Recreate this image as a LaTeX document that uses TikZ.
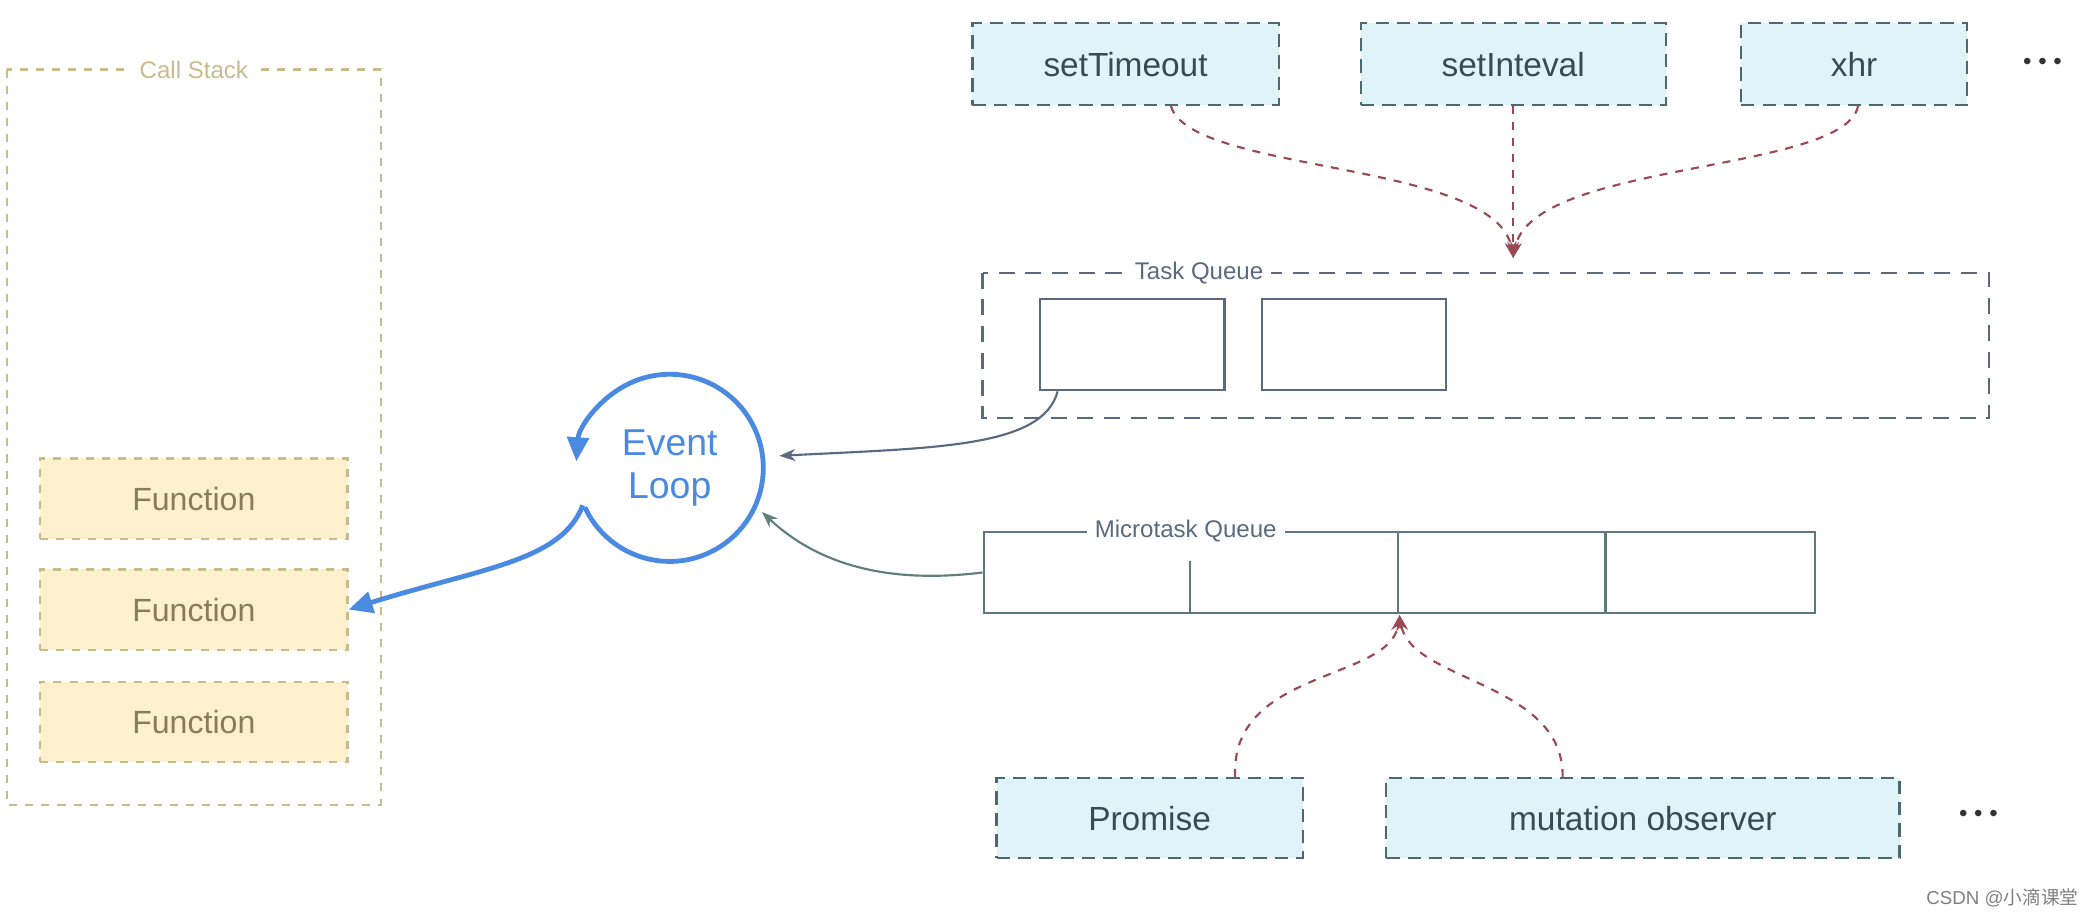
\documentclass[tikz,border=0pt]{standalone}
\usepackage{fontspec}
\setmainfont{Liberation Sans}
\newfontfamily\cjk{Noto Sans CJK SC}
\usetikzlibrary{arrows.meta}
\definecolor{tan}{HTML}{C9BB8C}
\definecolor{fnfill}{HTML}{FDF0CC}
\definecolor{fntext}{HTML}{8A7A5A}
\definecolor{evblue}{HTML}{4A8AE0}
\definecolor{slate}{HTML}{5A6A80}
\definecolor{mgreen}{HTML}{5F7F7A}
\definecolor{apifill}{HTML}{DFF3F8}
\definecolor{apiline}{HTML}{4A6A70}
\definecolor{apitext}{HTML}{3A4A55}
\definecolor{redd}{HTML}{9A4A55}
\tikzset{
 fn/.style={draw=tan,dashed,thick,fill=fnfill,text=fntext,font=\fontsize{12}{14}\selectfont},
 api/.style={draw=apiline,dashed,thick,fill=apifill,text=apitext,font=\fontsize{12.5}{14}\selectfont,dash pattern=on 5pt off 3pt},
 rarr/.style={draw=redd,dashed,thick,-{Stealth[length=6pt]}},
 lbl/.style={fill=white,inner sep=3pt,font=\fontsize{9}{10}\selectfont},
 dots/.style={text=black!80,font=\fontsize{9}{10}\selectfont},
}
\begin{document}
\begin{tikzpicture}[x=0.5pt,y=-0.5pt]
\useasboundingbox (0,0) rectangle (1568,688);
% call stack
\draw[tan,dashed,thick] (5,52) rectangle (285,602);
\node[lbl,text=tan] (cs) at (145,52) {Call Stack};
\node[fn,minimum width=115pt,minimum height=30pt] (f1) at (145,373) {Function};
\node[fn,minimum width=115pt,minimum height=30pt] (f2) at (145,456) {Function};
\node[fn,minimum width=115pt,minimum height=30pt] (f3) at (145,540) {Function};
% event loop
\coordinate (el) at (501,350);
\node[text=evblue,font=\fontsize{14}{16}\selectfont,align=center] (elt) at (el) {Event\\Loop};
\draw[evblue,line width=1.8pt,-{Triangle[length=9pt,width=8pt]}] (el) ++(155:70) arc[start angle=155,end angle=-176,radius=70];
\coordinate (es) at (436,378);
\draw[evblue,line width=1.8pt,-{Triangle[length=9pt,width=8pt]}] (es) .. controls (420,420) and (360,425) .. (f2.east);
% task queue
\draw[slate,dashed,thick,dash pattern=on 6pt off 4pt] (735,204) rectangle (1488,313);
\node[lbl,text=slate] (tq) at (897,204) {Task Queue};
\node[draw=slate,thick,minimum width=69pt,minimum height=34pt] (t1) at (847,258) {};
\node[draw=slate,thick,minimum width=69pt,minimum height=34pt] (t2) at (1013,258) {};
\draw[slate,thick,-{Stealth[length=6pt]}] ([xshift=7pt]t1.south west) .. controls (780,335) and (700,335) .. (583,341);
% microtask queue
\node[draw=mgreen!70!slate,thick,minimum width=311pt,minimum height=30.5pt,anchor=north west] (mq) at (735,397) {};
\draw[mgreen!70!slate,thick] (890,420) -- (890,458) (1046,397) -- (1046,458) (1201,397) -- (1201,458);
\node[lbl,text=slate] (mql) at (887,397) {Microtask Queue};
\draw[mgreen,thick,-{Stealth[length=6pt]}] (mq.west) .. controls (680,435) and (620,430) .. (570,383);
% apis
\node[api,minimum width=114.5pt,minimum height=30.5pt] (st) at (842,48) {setTimeout};
\node[api,minimum width=114pt,minimum height=30.5pt] (si) at (1132,48) {setInteval};
\node[api,minimum width=84.5pt,minimum height=30.5pt] (xhr) at (1387,48) {xhr};
\node[dots] (d1) at (1528,48) {\textbullet\ \textbullet\ \textbullet};
\coordinate (tin) at (1132,193);
\draw[rarr] ([xshift=17pt]st.south) .. controls (890,130) and (1120,120) .. (tin);
\draw[rarr] (si.south) -- (tin);
\draw[rarr] ([xshift=1.5pt]xhr.south) .. controls (1380,130) and (1145,120) .. (tin);
\node[api,minimum width=114.5pt,minimum height=30pt] (pr) at (860,612) {Promise};
\node[api,minimum width=192pt,minimum height=30pt] (mo) at (1229,612) {mutation observer};
\node[dots] (d2) at (1480,610) {\textbullet\ \textbullet\ \textbullet};
\coordinate (min) at (1047,460);
\draw[rarr] ([xshift=32pt]pr.north) .. controls (920,500) and (1040,510) .. (min);
\draw[rarr] ([xshift=-30pt]mo.north) .. controls (1170,510) and (1055,510) .. (min);
\node[text=gray,font=\fontsize{7}{8}\selectfont,anchor=east] (wm) at (1562,672) {CSDN @{\cjk 小滴课堂}};
\end{tikzpicture}
\end{document}
